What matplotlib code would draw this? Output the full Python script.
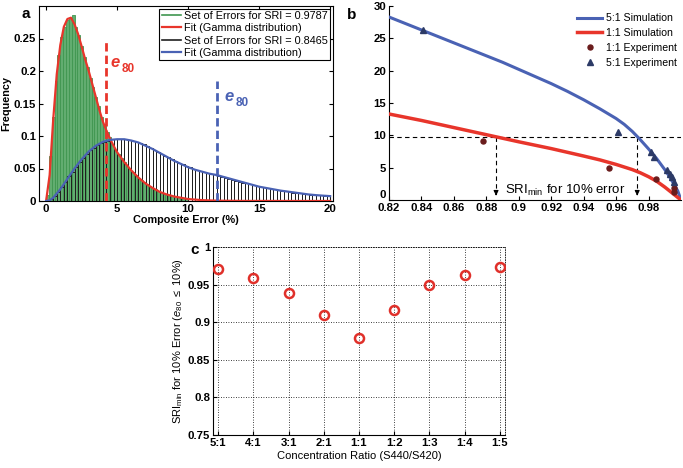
import numpy as np
import matplotlib
matplotlib.use("Agg")
import matplotlib.pyplot as plt
from matplotlib.ticker import FuncFormatter

plt.rcParams['font.family'] = ['Liberation Sans', 'DejaVu Sans']
plt.rcParams['mathtext.fontset'] = 'custom'
plt.rcParams['mathtext.rm'] = 'Liberation Sans'
plt.rcParams['mathtext.it'] = 'Liberation Sans:italic'
plt.rcParams['mathtext.bf'] = 'Liberation Sans:bold'

# ---------------- Panel a data ----------------
green_bin_width = 0.2
green_heights = [0.01, 0.07, 0.13, 0.185, 0.225, 0.252, 0.268, 0.278, 0.282, 0.286,
                 0.268, 0.255, 0.238, 0.222, 0.206, 0.19, 0.176, 0.16, 0.146, 0.13,
                 0.118, 0.106, 0.098, 0.088, 0.079, 0.072, 0.066, 0.06, 0.054, 0.049,
                 0.045, 0.04, 0.036, 0.032, 0.029, 0.026, 0.023, 0.02, 0.018, 0.015,
                 0.013, 0.011, 0.010, 0.009, 0.008, 0.007, 0.006, 0.005, 0.004, 0.004]
black_bin_width = 0.25
black_heights = [0.0, 0.003, 0.008, 0.014, 0.022, 0.03, 0.038, 0.044, 0.053, 0.06,
                 0.066, 0.072, 0.078, 0.082, 0.086, 0.089, 0.091, 0.093, 0.095, 0.095,
                 0.096, 0.095, 0.095, 0.094, 0.093, 0.091, 0.089, 0.087, 0.085, 0.082,
                 0.079, 0.076, 0.073, 0.07, 0.067, 0.064, 0.062, 0.059, 0.057, 0.054,
                 0.052, 0.05, 0.048, 0.046, 0.045, 0.043, 0.042, 0.041, 0.039, 0.037,
                 0.036, 0.034, 0.033, 0.031, 0.03, 0.028, 0.027, 0.026, 0.024, 0.023,
                 0.022, 0.021, 0.02, 0.019, 0.018, 0.017, 0.016, 0.015, 0.014, 0.013,
                 0.012, 0.012, 0.011, 0.011, 0.010, 0.010, 0.009, 0.009, 0.008, 0.008]
red_fit_x = [0, 0.25, 0.5, 0.75, 1.0, 1.25, 1.5, 1.75, 2.0, 2.25, 2.5, 2.75, 3.0, 3.25,
             3.5, 3.75, 4.0, 4.25, 4.5, 4.75, 5.0, 5.5, 6, 6.5, 7, 7.5, 8, 8.5, 9, 9.5,
             10, 11, 12, 14, 20]
red_fit_y = [0, 0.04, 0.125, 0.195, 0.24, 0.268, 0.28, 0.282, 0.272, 0.257, 0.238,
             0.218, 0.2, 0.18, 0.16, 0.14, 0.122, 0.108, 0.096, 0.085, 0.075, 0.06,
             0.047, 0.036, 0.027, 0.02, 0.014, 0.01, 0.007, 0.005, 0.003, 0.0013,
             0.0005, 0.0001, 0]
blue_fit_x = [0, 0.25, 0.5, 1, 1.5, 2, 2.5, 3, 3.5, 4, 4.5, 5, 5.5, 6, 6.5, 7, 7.5, 8,
              8.5, 9, 9.5, 10, 10.5, 11, 11.5, 12, 12.5, 13, 13.5, 14, 14.5, 15, 15.5,
              16, 16.5, 17, 17.5, 18, 18.5, 19, 19.5, 20]
blue_fit_y = [0, 0.001, 0.005, 0.018, 0.034, 0.05, 0.064, 0.076, 0.085, 0.091, 0.094,
              0.095, 0.095, 0.093, 0.09, 0.085, 0.08, 0.074, 0.068, 0.062, 0.057,
              0.052, 0.048, 0.045, 0.042, 0.04, 0.037, 0.034, 0.031, 0.028, 0.025,
              0.022, 0.02, 0.018, 0.016, 0.0145, 0.013, 0.0115, 0.01, 0.009, 0.0082,
              0.0075]
e80_red = 4.2
e80_red_top = 0.246
e80_blue = 12.0
e80_blue_top = 0.184
legend_a = ["Set of Errors for SRI = 0.9787", "Fit (Gamma distribution)",
            "Set of Errors for SRI = 0.8465", "Fit (Gamma distribution)"]

# ---------------- Panel b data ----------------
sim51_x = [0.82, 0.83, 0.84, 0.85, 0.86, 0.87, 0.88, 0.89, 0.90, 0.91, 0.92, 0.93,
           0.94, 0.95, 0.96, 0.965, 0.97, 0.975, 0.98, 0.985, 0.99, 0.993, 0.996,
           0.998, 1.0]
sim51_y = [28.3, 27.3, 26.3, 25.3, 24.3, 23.3, 22.3, 21.3, 20.2, 19.1, 18.0, 16.8,
           15.5, 14.1, 12.6, 11.7, 10.6, 9.3, 7.9, 6.4, 4.7, 3.6, 2.3, 1.4, 0.0]
sim11_x = [0.82, 0.84, 0.86, 0.88, 0.90, 0.92, 0.94, 0.95, 0.96, 0.97, 0.975, 0.98,
           0.985, 0.99, 0.995, 1.0]
sim11_y = [13.3, 12.3, 11.2, 10.1, 9.0, 7.95, 6.8, 6.2, 5.5, 4.7, 4.2, 3.6, 2.9, 2.0,
           1.0, 0.0]
exp11_x = [0.878, 0.9555, 0.9843, 0.9957, 0.9958]
exp11_y = [9.1, 5.0, 3.2, 1.9, 1.3]
exp51_x = [0.841, 0.961, 0.9814, 0.9832, 0.9912, 0.9932, 0.9946, 0.9957]
exp51_y = [26.3, 10.5, 7.4, 6.7, 4.6, 4.0, 3.5, 2.8]
err_level = 9.8
sri_min_11 = 0.886
sri_min_51 = 0.973

# ---------------- Panel c data ----------------
ratios = ["5:1", "4:1", "3:1", "2:1", "1:1", "1:2", "1:3", "1:4", "1:5"]
sri_min = [0.971, 0.959, 0.939, 0.909, 0.879, 0.916, 0.950, 0.963, 0.974]

W, H = 683, 468
fig = plt.figure(figsize=(W / 100, H / 100), dpi=100)

TICKFS = 8.2
RED = '#e8352b'
BLUE = '#4a62b4'


def style_ticks(ax):
    for lab in ax.get_xticklabels() + ax.get_yticklabels():
        lab.set_fontweight('bold')


# ---------------- Panel a ----------------
axa = fig.add_axes([39 / W, 1 - 201 / H, 294 / W, 195 / H])
gx = np.arange(len(green_heights)) * green_bin_width
axa.bar(gx, green_heights, width=green_bin_width, align='edge',
        color='#62ad70', edgecolor='#3f9650', linewidth=0.6, zorder=2)
bx = np.arange(len(black_heights)) * black_bin_width
axa.bar(bx, black_heights, width=black_bin_width, align='edge',
        facecolor='none', edgecolor='#202020', linewidth=0.7, zorder=3)
axa.plot(red_fit_x, red_fit_y, color=RED, lw=1.6, zorder=4)
axa.plot(blue_fit_x, blue_fit_y, color=BLUE, lw=1.6, zorder=4)
axa.plot([e80_red, e80_red], [0, e80_red_top], color=RED, lw=2, ls=(0, (3, 1.5)), zorder=5)
axa.plot([e80_blue, e80_blue], [0, e80_blue_top], color=BLUE, lw=2, ls=(0, (3, 1.5)), zorder=5)
axa.text(4.55, 0.213, 'e', color=RED, fontsize=12, fontweight='bold', style='italic',
         ha='left', va='center')
axa.text(5.35, 0.203, '80', color=RED, fontsize=8.5, fontweight='bold',
         ha='left', va='center')
axa.text(12.55, 0.161, 'e', color=BLUE, fontsize=12, fontweight='bold', style='italic',
         ha='left', va='center')
axa.text(13.35, 0.151, '80', color=BLUE, fontsize=8.5, fontweight='bold',
         ha='left', va='center')
axa.set_xlim(-0.5, 20.2)
axa.set_ylim(0, 0.3)
axa.set_xticks([0, 5, 10, 15, 20])
axa.set_yticks([0, 0.05, 0.1, 0.15, 0.2, 0.25])
axa.yaxis.set_major_formatter(FuncFormatter(lambda v, p: '%g' % v))
axa.tick_params(direction='in', top=True, right=True, labelsize=TICKFS, length=3, pad=2)
style_ticks(axa)
axa.set_xlabel('Composite Error (%)', fontsize=7.8, fontweight='bold', labelpad=1)
axa.set_ylabel('Frequency', fontsize=7.8, fontweight='bold', labelpad=2)
hl = [plt.Line2D([], [], color='#3f9650', lw=1.2),
      plt.Line2D([], [], color=RED, lw=1.6),
      plt.Line2D([], [], color='#202020', lw=1.2),
      plt.Line2D([], [], color=BLUE, lw=1.6)]
lga = axa.legend(hl, legend_a, loc='upper right', fontsize=7.8, frameon=True,
                 fancybox=False, edgecolor='black', framealpha=1, borderpad=0.2,
                 labelspacing=0.22, handlelength=1.8, handletextpad=0.3,
                 borderaxespad=0.25)
lga.get_frame().set_linewidth(0.8)
fig.text(26 / W, 1 - 14 / H, 'a', fontsize=11, fontweight='bold', ha='center', va='center')

# ---------------- Panel b ----------------
axb = fig.add_axes([389 / W, 1 - 200 / H, 292 / W, 194 / H])
axb.plot([0.82, 1.0], [err_level, err_level], color='black', lw=0.8, ls=(0, (4, 3)), zorder=1)
for xv in (sri_min_11, sri_min_51):
    axb.plot([xv, xv], [err_level, 0.9], color='black', lw=0.8, ls=(0, (4, 3)), zorder=1)
    axb.annotate('', xy=(xv, 0.25), xytext=(xv, 1.3),
                 arrowprops=dict(arrowstyle='-|>', color='black', lw=0.8,
                                 mutation_scale=7))
l1, = axb.plot(sim51_x, sim51_y, color=BLUE, lw=2.2, zorder=3)
l2, = axb.plot(sim11_x, sim11_y, color=RED, lw=2.5, zorder=3)
p1, = axb.plot(exp11_x, exp11_y, 'o', color='#6a1c1c', ms=3.6, ls='none', zorder=4)
p2, = axb.plot(exp51_x, exp51_y, '^', color='#2c3a66', ms=4.2, ls='none', zorder=4)
axb.text(0.8915, 0.25, r'SRI$_{\mathregular{min}}$ for 10% error', fontsize=9.5,
         ha='left', va='bottom')
axb.set_xlim(0.82, 1.0)
axb.set_ylim(0, 30)
axb.set_xticks([0.82, 0.84, 0.86, 0.88, 0.9, 0.92, 0.94, 0.96, 0.98])
axb.set_yticks([0, 5, 10, 15, 20, 25, 30])
axb.xaxis.set_major_formatter(FuncFormatter(lambda v, p: '%g' % v))
axb.spines['top'].set_visible(False)
axb.spines['right'].set_visible(False)
axb.tick_params(direction='in', labelsize=TICKFS, length=3, pad=2)
style_ticks(axb)
ylabs = axb.get_yticklabels()
ylabs[0].set_verticalalignment('bottom')
lgb = axb.legend([l1, l2, p1, p2], ['5:1 Simulation', '1:1 Simulation',
                                     '1:1 Experiment', '5:1 Experiment'],
                 loc='upper right', fontsize=7.6, frameon=False, labelspacing=0.45,
                 handlelength=2.4, handletextpad=0.3, borderaxespad=0.3,
                 bbox_to_anchor=(1.01, 1.0))
fig.text(352 / W, 1 - 15 / H, 'b', fontsize=11, fontweight='bold', ha='center', va='center')

# ---------------- Panel c ----------------
axc = fig.add_axes([213 / W, 1 - 435 / H, 292 / W, 188 / H])
xc = np.arange(len(ratios))
axc.plot(xc, sri_min, 'o', mfc='none', mec='#e0302a', mew=1.8, ms=6.5, ls='none', zorder=3)
axc.set_xlim(-0.15, 8.15)
axc.set_ylim(0.75, 1.0)
axc.set_xticks(xc)
axc.set_xticklabels(ratios)
axc.set_yticks([0.75, 0.8, 0.85, 0.9, 0.95, 1.0])
axc.yaxis.set_major_formatter(FuncFormatter(lambda v, p: '%g' % v))
axc.grid(True, ls=(0, (1, 2)), color='black', lw=0.6)
axc.set_axisbelow(True)
for s in ('top', 'right'):
    axc.spines[s].set_linestyle((0, (1, 2)))
    axc.spines[s].set_linewidth(0.6)
axc.tick_params(direction='in', labelsize=TICKFS, length=3, pad=2)
style_ticks(axc)
axc.set_xlabel('Concentration Ratio (S440/S420)', fontsize=8, labelpad=2)
axc.set_ylabel(r'SRI$_{\mathregular{min}}$ for 10% Error ($\mathit{e}_{\mathregular{80}}$ $\leq$ 10%)',
               fontsize=8, labelpad=2)
fig.text(195 / W, 1 - 250 / H, 'c', fontsize=11, fontweight='bold', ha='center', va='center')

fig.savefig('out.png', dpi=100)
